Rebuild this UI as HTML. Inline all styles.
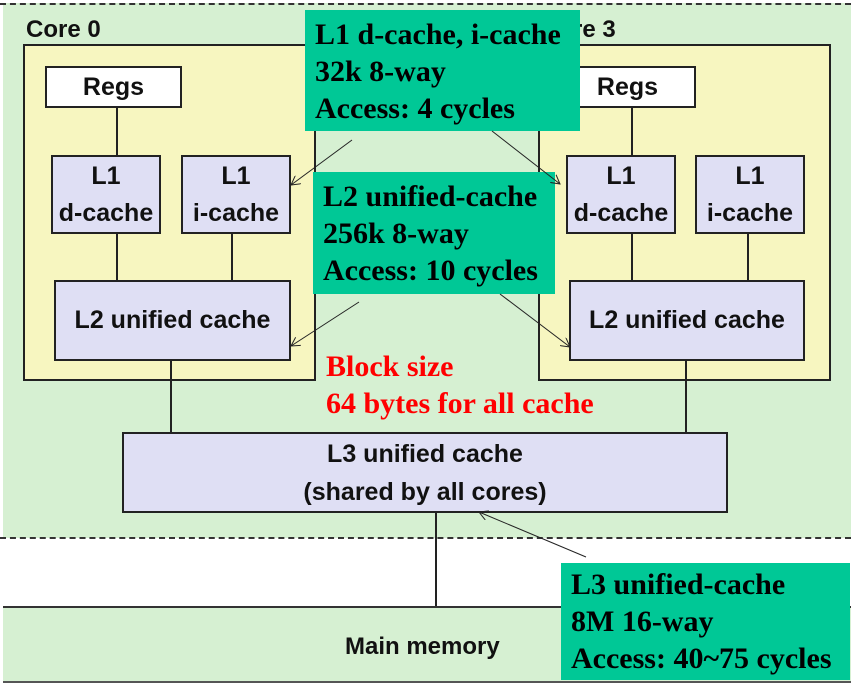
<!DOCTYPE html>
<html><head><meta charset="utf-8"><style>
body{margin:0;width:851px;height:685px;position:relative;overflow:hidden;background:#fff;font-family:"Liberation Sans",Arial,sans-serif}
.a{position:absolute;box-sizing:border-box}
.bx{border:2px solid #222;display:flex;align-items:center;justify-content:center;text-align:center;font-size:25px;font-weight:bold;line-height:37px;color:#111;background:#dfdff4;white-space:nowrap}
.cl{background:#00c896;font-family:"Liberation Serif",serif;font-weight:bold;font-size:30px;line-height:37px;padding:6px 10px 0;color:#000;white-space:nowrap;overflow:hidden}
.lbl{font-size:24px;font-weight:bold;color:#111}
</style></head><body>
<div class="a" style="left:3px;top:3px;width:848px;height:535px;background:#d6f0d2"></div>
<div class="a" style="left:0;top:3px;width:851px;border-top:2px dashed #333"></div>
<div class="a" style="left:0;top:537px;width:851px;border-top:2px dashed #333"></div>
<div class="a" style="left:3px;top:606px;width:848px;height:77px;background:#d6f0d2;border-top:2px solid #333;border-bottom:2px solid #555"></div>
<div class="a lbl" style="left:345px;top:633px">Main memory</div>

<div class="a lbl" style="left:26px;top:16px">Core 0</div>
<div class="a lbl" style="left:541px;top:16px">Core 3</div>
<div class="a" style="left:23px;top:44px;width:293px;height:337px;background:#f7f6c0;border:2px solid #222"></div>
<div class="a" style="left:538px;top:44px;width:293px;height:337px;background:#f7f6c0;border:2px solid #222"></div>

<svg class="a" style="left:0;top:0" width="851" height="685">
<g stroke="#222" stroke-width="2">
<line x1="117" y1="107" x2="117" y2="155"/><line x1="117" y1="233" x2="117" y2="280"/><line x1="232" y1="233" x2="232" y2="280"/>
<line x1="632" y1="107" x2="632" y2="155"/><line x1="632" y1="233" x2="632" y2="280"/><line x1="748" y1="233" x2="748" y2="280"/>
<line x1="171" y1="360" x2="171" y2="432"/><line x1="686" y1="360" x2="686" y2="432"/><line x1="436" y1="512" x2="436" y2="606"/>
</g>
</svg>

<div class="a bx" style="left:45px;top:66px;width:137px;height:42px;background:#fff">Regs</div>
<div class="a bx" style="left:51px;top:155px;width:110px;height:79px">L1<br>d-cache</div>
<div class="a bx" style="left:181px;top:155px;width:110px;height:79px">L1<br>i-cache</div>
<div class="a bx" style="left:54px;top:280px;width:237px;height:81px">L2 unified cache</div>
<div class="a bx" style="left:559px;top:66px;width:137px;height:42px;background:#fff">Regs</div>
<div class="a bx" style="left:566px;top:155px;width:110px;height:79px">L1<br>d-cache</div>
<div class="a bx" style="left:695px;top:155px;width:110px;height:79px">L1<br>i-cache</div>
<div class="a bx" style="left:569px;top:280px;width:236px;height:81px">L2 unified cache</div>
<div class="a bx" style="left:122px;top:432px;width:606px;height:81px;line-height:38px">L3 unified cache<br>(shared by all cores)</div>

<div class="a cl" style="left:305px;top:10px;width:275px;height:121px">L1 d-cache, i-cache<br>32k 8-way<br>Access: 4 cycles</div>
<div class="a cl" style="left:313px;top:172px;width:242px;height:122px">L2 unified-cache<br>256k 8-way<br>Access: 10 cycles</div>
<div class="a cl" style="left:561px;top:563px;width:289px;height:117px;padding-top:3px">L3 unified-cache<br>8M 16-way<br>Access: 40~75 cycles</div>
<div class="a" style="left:326px;top:348px;font-family:'Liberation Serif',serif;font-weight:bold;font-size:30px;line-height:37px;color:#f00;white-space:nowrap">Block size<br>64 bytes for all cache</div>

<svg class="a" style="left:0;top:0" width="851" height="685">
<defs><marker id="m" markerWidth="10" markerHeight="10" refX="9" refY="5" orient="auto" markerUnits="userSpaceOnUse"><path d="M0,0 L9,5 L0,10" fill="none" stroke="#222" stroke-width="1"/></marker></defs>
<g stroke="#222" stroke-width="1" marker-end="url(#m)">
<line x1="352" y1="140" x2="291" y2="185"/>
<line x1="359" y1="302" x2="291" y2="346"/>
<line x1="492" y1="131" x2="560" y2="184"/>
<line x1="500" y1="294" x2="570" y2="347"/>
<line x1="586" y1="557" x2="479" y2="512"/>
</g>
</svg>
</body></html>
